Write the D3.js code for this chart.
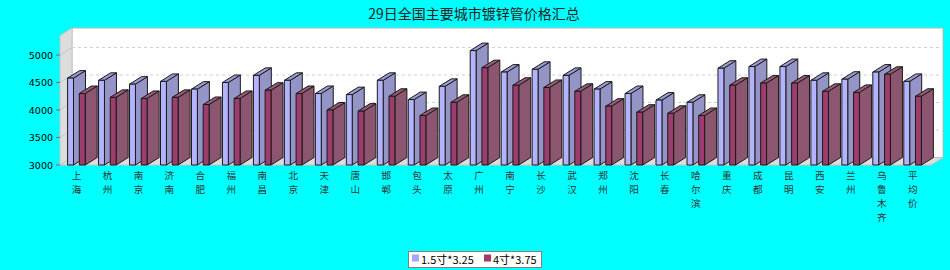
<!DOCTYPE html>
<html><head><meta charset="utf-8">
<script src="https://cdn.jsdelivr.net/npm/d3@7"></script>
<style>
html,body{margin:0;padding:0;background:#00ffff;}
svg{display:block;}
</style></head>
<body>
<svg id="c" width="950" height="270"></svg>
<script>
const title = "29日全国主要城市镀锌管价格汇总";
const categories = ["上海","杭州","南京","济南","合肥","福州","南昌","北京","天津","唐山","邯郸","包头","太原","广州","南宁","长沙","武汉","郑州","沈阳","长春","哈尔滨","重庆","成都","昆明","西安","兰州","乌鲁木齐","平均价"];
const seriesNames = ["1.5寸*3.25","4寸*3.75"];
const series1 = [4580,4540,4470,4520,4380,4500,4630,4540,4300,4280,4540,4190,4430,5080,4690,4740,4630,4380,4300,4180,4140,4760,4790,4790,4540,4560,4690,4520];
const series2 = [4300,4230,4210,4230,4100,4210,4360,4300,4000,3980,4250,3900,4140,4770,4450,4410,4340,4070,3960,3940,3900,4450,4490,4490,4340,4320,4650,4250];
const yTicks = [3000,3500,4000,4500,5000];

(function(){
const svg = d3.select("#c");
const font = "'Noto Sans CJK SC','DejaVu Sans',sans-serif";
const DX = 12, DY = 7.5;
const leftX = 60, baseY = 165, topY = 35.5;
const y = d3.scaleLinear().domain([3000, 5355]).range([baseY, topY]);
const x = d3.scaleBand().domain(categories).range([leftX, leftX + 28*30.97]).padding(0);
const xs = d3.scaleBand().domain([0,1]).range([7.6, 25.2]).paddingInner(0.496).paddingOuter(0);
const backRight = 943, frontRight = 931;

svg.append("text").attr("x", 474).attr("y", 19).attr("text-anchor","middle")
  .attr("font-family", font).attr("font-size", 14).attr("fill","#222").text(title);

svg.append("rect").attr("x", leftX+DX).attr("y", topY-DY).attr("width", backRight-leftX-DX).attr("height", baseY-topY)
  .attr("fill","#fff").attr("stroke","#b8b8b8").attr("stroke-width",1);
svg.append("polygon").attr("points", [[leftX,topY],[leftX+DX,topY-DY],[leftX+DX,baseY-DY],[leftX,baseY]].join(" "))
  .attr("fill","#dddddd").attr("stroke","#c4c4c4").attr("stroke-width",1);
svg.append("polygon").attr("points", [[leftX,baseY],[leftX+DX,baseY-DY],[backRight,baseY-DY],[frontRight,baseY]].join(" "))
  .attr("fill","#dddddd").attr("stroke","#c4c4c4").attr("stroke-width",1);

yTicks.filter(t=>t>3000).forEach(t=>{
  const yy = y(t);
  svg.append("line").attr("x1", leftX+DX).attr("x2", backRight).attr("y1", yy-DY).attr("y2", yy-DY)
    .attr("stroke","#d0d0d0").attr("stroke-dasharray","3,3").attr("stroke-width",1);
  svg.append("line").attr("x1", leftX).attr("x2", leftX+DX).attr("y1", yy).attr("y2", yy-DY)
    .attr("stroke","#c8c8c8").attr("stroke-width",1);
});

const yAxisG = svg.append("g");
yTicks.forEach(t=>{
  yAxisG.append("line").attr("x1", leftX-4).attr("x2", leftX).attr("y1", y(t)).attr("y2", y(t))
    .attr("stroke","#b05050").attr("stroke-width",1);
  yAxisG.append("text").attr("x", leftX-7).attr("y", y(t)+3.5).attr("text-anchor","end")
    .attr("font-family","'DejaVu Sans',sans-serif").attr("font-size",9.5).attr("fill","#000").text(t);
});

const colors = [
  {front:"#b3b3ff", side:"#9494c6", top:"#9a9ad0"},
  {front:"#9c3d6e", side:"#8d5670", top:"#925a76"}
];
const data = [series1, series2];
const barsG = svg.append("g");
categories.forEach((c,i)=>{
  [0,1].forEach(s=>{
    const v = data[s][i];
    const x0 = x(c) + xs(s), w = xs.bandwidth();
    const yt = y(v), yb = y(3000);
    const col = colors[s];
    const g = barsG.append("g").attr("stroke","#1a1a1a").attr("stroke-width",1).attr("stroke-linejoin","round");
    g.append("polygon").attr("points", [[x0+w,yt],[x0+w+DX,yt-DY],[x0+w+DX,yb-DY],[x0+w,yb]].join(" ")).attr("fill", col.side);
    g.append("polygon").attr("points", [[x0,yt],[x0+DX,yt-DY],[x0+w+DX,yt-DY],[x0+w,yt]].join(" ")).attr("fill", col.top);
    g.append("rect").attr("x", x0).attr("y", yt).attr("width", w).attr("height", yb-yt).attr("fill", col.front);
  });
});

const labG = svg.append("g").attr("font-family", font).attr("font-size",9.6).attr("fill","#333").attr("text-anchor","middle");
categories.forEach(c=>{
  const cx = x(c) + x.bandwidth()/2 + 1;
  Array.from(c).forEach((ch,k)=>{
    labG.append("text").attr("x", cx).attr("y", 179 + k*14).text(ch);
  });
});

const lg = svg.append("g");
lg.append("rect").attr("x",408.5).attr("y",251.5).attr("width",133).attr("height",16).attr("fill","#fff").attr("stroke","#808080");
lg.append("rect").attr("x",412).attr("y",254.5).attr("width",7).attr("height",7).attr("fill","#a6a6ff");
lg.append("text").attr("x",421).attr("y",264).attr("font-family",font).attr("font-size",11).attr("fill","#000").text(seriesNames[0]);
lg.append("rect").attr("x",484).attr("y",254.5).attr("width",7).attr("height",7).attr("fill","#a23a68");
lg.append("text").attr("x",493).attr("y",264).attr("font-family",font).attr("font-size",11).attr("fill","#000").text(seriesNames[1]);
})();
</script>
</body></html>
